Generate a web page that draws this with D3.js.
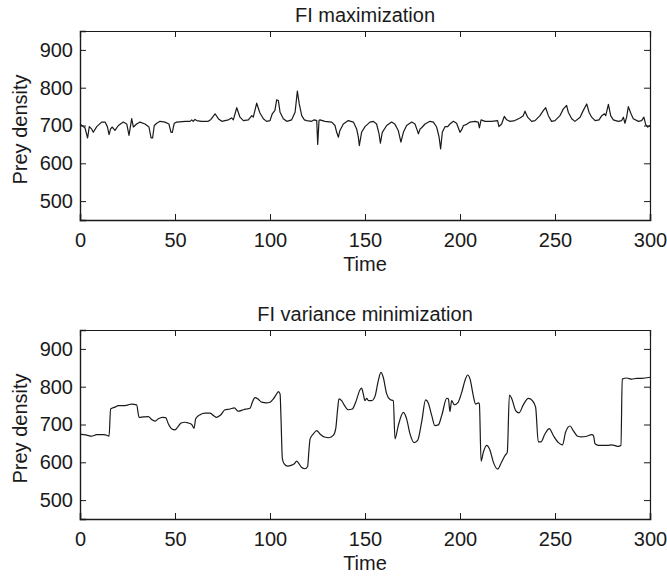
<!DOCTYPE html>
<html>
<head>
<meta charset="utf-8">
<script src="https://cdn.jsdelivr.net/npm/d3@7"></script>
<style>
  html, body { margin: 0; padding: 0; background: #fff; }
  svg { display: block; font-family: "Liberation Sans", Arial, Helvetica, sans-serif; }
</style>
</head>
<body>
<svg id="chart" width="667" height="581"></svg>
<script>
// ---- Data ----
const titles = ["FI maximization", "FI variance minimization"];
const xLabel = "Time";
const yLabel = "Prey density";
const xTicks = [0, 50, 100, 150, 200, 250, 300];
const yTicks = [500, 600, 700, 800, 900];

const timeFI = [0,2.6,4.0,4.9,6.1,7.0,8.8,11.4,13.2,14.4,15.3,16.1,17.0,18.4,20.2,22.8,24.6,25.8,27.2,28.1,29.8,31.6,34.2,36.3,37.4,38.2,39.1,40.4,42.1,44.7,46.8,47.9,48.6,49.6,50.9,55.3,57.9,58.8,59.6,60.5,61.4,64.0,67.5,68.9,71.1,72.8,74.6,78.1,79.8,80.7,82.5,84.2,86.0,88.6,90.4,91.2,93.0,94.7,96.5,98.2,
  100,101.2,102.6,103.5,104.4,105.3,107.0,108.8,111.4,113.2,114.4,115.4,116.7,118.1,119.3,121.9,123.3,124.6,125.1,125.8,126.3,128.9,132.5,134.2,135.1,136.0,136.8,138.6,141.2,143.9,145.6,146.5,147.0,148.2,150.0,152.6,154.4,156.1,157.4,158.1,159.1,161.4,164.0,165.8,167.5,168.9,170.2,171.9,174.6,176.3,177.5,178.1,179.0,179.8,181.6,184.2,186.0,187.7,189.0,189.8,190.7,192.1,193.5,194.7,196.5,198.2,
  200,200.9,201.8,203.5,205.3,207.9,209.6,210.2,211.1,213.2,216.7,219.8,220.5,221.9,223.3,224.6,226.3,228.9,231.6,233.3,234.2,235.6,237.7,239.5,242.1,243.9,245.1,246.5,248.2,250.0,252.6,254.4,256.1,257.0,258.8,260.5,263.2,264.9,266.7,267.9,269.3,271.1,273.2,274.6,276.0,276.7,278.1,279.3,280.7,283.3,285.1,286.0,286.8,287.7,288.6,290.0,291.2,293.9,295.6,296.8,297.7,298.8,300];
const preyFI = [704,694,667,697,691,682,697,709,709,697,676,691,696,687,700,709,704,674,718,696,704,709,704,696,667,667,700,706,711,709,704,682,682,706,709,711,711,715,711,716,713,711,711,716,731,718,711,715,720,715,747,722,713,715,726,722,759,733,718,711,
  713,731,740,768,766,735,718,711,715,735,791,757,726,715,713,711,715,713,650,713,715,711,709,700,682,669,687,704,713,709,691,669,647,682,697,709,711,704,678,653,682,700,709,703,687,656,682,700,709,704,687,678,691,694,704,711,709,696,669,638,682,697,697,704,711,706,
  682,689,700,703,709,711,709,694,715,711,711,713,697,704,724,715,711,713,720,726,738,722,711,713,726,740,747,726,711,713,726,744,753,735,718,711,722,740,757,735,722,713,715,726,731,726,756,726,715,711,713,722,706,722,750,731,718,711,713,722,703,696,700];

const timeVar = [0,0.9,3.5,6.1,8.8,12.3,14.4,15.3,16.1,18.4,20.2,23.7,25.4,27.2,29.8,31.1,33.3,36.0,37.7,39.5,41.2,43.3,45.1,46.5,48.2,50.0,51.4,53.2,55.3,57.0,58.8,60.0,60.9,63.2,65.8,68.4,70.2,71.9,74.0,76.3,78.9,81.2,83.3,86.0,87.7,89.5,90.7,92.1,93.5,95.6,98.2,
  100,101.8,103.5,104.4,105.3,105.8,106.5,107.5,109.3,111.1,112.8,114.0,115.3,116.7,118.4,119.8,120.5,121.1,122.8,124.6,126.3,128.6,131.1,133.3,134.6,135.6,136.3,137.7,139.5,141.2,143.3,145.1,147.4,148.2,149.1,150.0,150.9,151.8,153.5,155.3,157.0,158.4,159.6,161.4,163.2,164.9,165.8,167.5,170.2,171.9,173.7,175.8,177.7,179.8,181.9,183.3,185.1,186.8,188.6,190.4,193.0,193.9,194.7,195.6,197.0,198.8,
  200.9,202.6,204.0,205.3,207.0,208.2,209.6,210.2,211.1,212.3,214.0,215.8,217.5,219.8,221.9,223.7,224.9,226.0,227.2,229.3,231.1,233.3,236.0,238.1,239.8,241.2,242.6,244.7,247.0,249.1,251.8,253.9,255.6,257.9,259.6,261.9,264.0,266.7,269.3,270.2,271.1,272.8,275.4,278.1,279.5,281.2,283.3,284.7,285.4,287.7,290.4,293.0,295.6,300];
const preyVar = [674,674,672,669,673,673,671,669,741,746,750,750,752,754,752,719,720,721,713,709,715,719,718,702,689,686,693,704,706,704,700,690,715,726,730,730,724,719,725,739,741,744,735,739,741,743,759,771,768,759,757,
  759,768,781,787,781,715,610,596,590,592,596,603,596,586,583,589,632,662,675,684,675,667,665,671,689,741,768,763,748,739,741,759,792,796,781,763,769,763,763,775,816,838,825,781,766,763,662,697,732,715,675,652,658,706,765,757,724,697,699,724,769,768,734,763,752,757,
  785,816,831,820,776,754,757,754,603,627,645,632,601,582,601,618,627,778,769,737,731,752,769,763,746,654,654,675,689,671,652,646,680,696,684,669,667,669,673,671,649,645,645,645,646,645,642,645,820,823,820,822,822,825];

const seriesList = [
  { t: timeFI, v: preyFI, curve: d3.curveLinear },
  { t: timeVar, v: preyVar, curve: d3.curveMonotoneX }
];

// ---- Layout ----
const svg = d3.select("#chart");
const left = 80, right = 650, plotH = 189;
const panelTops = [31, 330];
const ink = "#1a1a1a";
const fontSize = 20;

const x = d3.scaleLinear().domain([0, 300]).range([left, right]);

seriesList.forEach((s, i) => {
  const top = panelTops[i], bottom = top + plotH;
  const y = d3.scaleLinear().domain([450, 950]).range([bottom, top]);
  const g = svg.append("g");

  // data line
  const pts = s.t.map((t, k) => [t, s.v[k]]);
  g.append("path")
    .datum(pts)
    .attr("fill", "none")
    .attr("stroke", ink)
    .attr("stroke-width", 1.2)
    .attr("stroke-linejoin", "round")
    .attr("d", d3.line().x(d => x(d[0])).y(d => y(d[1])).curve(s.curve));

  // axes (inward ticks, full box)
  const axB = g.append("g").attr("transform", `translate(0,${bottom})`)
    .call(d3.axisBottom(x).tickValues(xTicks).tickSize(-6).tickPadding(13).tickFormat(d3.format("d")));
  const axT = g.append("g").attr("transform", `translate(0,${top})`)
    .call(d3.axisTop(x).tickValues(xTicks).tickSize(-6).tickFormat(""));
  const axL = g.append("g").attr("transform", `translate(${left},0)`)
    .call(d3.axisLeft(y).tickValues(yTicks).tickSize(-6).tickPadding(7).tickFormat(d3.format("d")));
  const axR = g.append("g").attr("transform", `translate(${right},0)`)
    .call(d3.axisRight(y).tickValues(yTicks).tickSize(-6).tickFormat(""));

  [axB, axT, axL, axR].forEach(a => {
    a.selectAll("path.domain").attr("stroke", ink).attr("stroke-width", 1.2);
    a.selectAll(".tick line").attr("stroke", ink).attr("stroke-width", 1);
    a.selectAll("text").attr("fill", ink).style("font-size", fontSize + "px")
      .style("font-family", '"Liberation Sans", Arial, Helvetica, sans-serif');
  });
  axB.select("path.domain").attr("stroke-width", 1.6);
  axL.select("path.domain").attr("stroke-width", 1.4);

  // title
  g.append("text")
    .attr("x", (left + right) / 2).attr("y", top - 9)
    .attr("text-anchor", "middle")
    .attr("fill", ink).style("font-size", fontSize + "px")
    .text(titles[i]);

  // x label
  g.append("text")
    .attr("x", (left + right) / 2).attr("y", bottom + 51)
    .attr("text-anchor", "middle")
    .attr("fill", ink).style("font-size", fontSize + "px")
    .text(xLabel);

  // y label
  g.append("text")
    .attr("transform", `translate(27,${(top + bottom) / 2 + 4}) rotate(-90)`)
    .attr("text-anchor", "middle")
    .attr("fill", ink).style("font-size", fontSize + "px")
    .text(yLabel);
});
</script>
</body>
</html>
